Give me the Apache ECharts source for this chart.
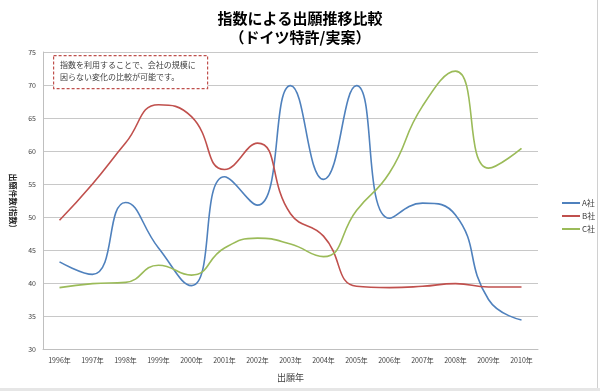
<!DOCTYPE html>
<html><head><meta charset="utf-8">
<script src="https://cdn.jsdelivr.net/npm/echarts@6/dist/echarts.min.js"></script>
<style>html,body{margin:0;padding:0;background:#fff}#c{width:600px;height:391px}</style>
</head><body><div id="c"></div>
<script>
const categories = ['1996年','1997年','1998年','1999年','2000年','2001年','2002年','2003年','2004年','2005年','2006年','2007年','2008年','2009年','2010年'];
const seriesA = [43.2, 41.3, 52.2, 45.3, 39.6, 56.1, 51.8, 69.9, 55.7, 69.9, 49.8, 52.1, 50.3, 37.5, 34.4];
const seriesB = [49.5, 55.0, 61.2, 67.0, 65.2, 57.2, 61.2, 50.5, 47.1, 39.5, 39.3, 39.5, 39.9, 39.4, 39.4];
const seriesC = [39.3, 39.9, 40.1, 42.7, 41.2, 45.3, 46.8, 45.9, 44.0, 51.0, 56.7, 66.8, 72.1, 57.4, 60.4];
const seriesNames = ['A社','B社','C社'];
const colors = ['#4F81BD','#C0504D','#9BBB59'];
const yTicks = {min: 30, max: 75, interval: 5};
const titleLines = ['指数による出願推移比較','（ドイツ特許/実案）'];
const noteLines = ['指数を利用することで、会社の規模に','因らない変化の比較が可能です。'];

const font = '"Noto Sans CJK JP", "Noto Sans", sans-serif';
const chart = echarts.init(document.getElementById('c'), null, {renderer:'canvas'});
const data = [seriesA, seriesB, seriesC];
chart.setOption({
  animation: false,
  textStyle: {fontFamily: font},
  title: {
    text: titleLines.join('\n'), left: 'center', top: 4,
    textStyle: {fontSize: 15, fontWeight: 'bold', color: '#000', lineHeight: 19, fontFamily: font}
  },
  legend: {
    orient: 'vertical', left: 557, top: 194, itemGap: 5,
    itemWidth: 18, itemHeight: 2, icon: 'rect',
    textStyle: {fontSize: 8, color: '#404040', fontFamily: font, padding: [0,0,0,-3]},
    data: seriesNames
  },
  grid: {left: 43, right: 62, top: 52, bottom: 42},
  xAxis: {
    type: 'category', data: categories, boundaryGap: true,
    name: '出願年', nameLocation: 'middle', nameGap: 24,
    nameTextStyle: {fontSize: 9, color: '#404040'},
    axisLine: {lineStyle: {color: '#bfbfbf'}},
    axisTick: {show: false},
    axisLabel: {fontSize: 7, color: '#404040', interval: 0, margin: 8}
  },
  yAxis: {
    type: 'value', min: yTicks.min, max: yTicks.max, interval: yTicks.interval,
    name: '出願件数(指数)', nameLocation: 'middle', nameGap: 22, nameRotate: -90,
    nameTextStyle: {fontSize: 8, color: '#262626', fontWeight: 'bold'},
    axisLine: {show: true, lineStyle: {color: '#bfbfbf'}},
    axisTick: {show: false},
    splitLine: {lineStyle: {color: '#c8c8c8', width: 1}},
    axisLabel: {fontSize: 7, color: '#404040', margin: 7}
  },
  series: data.map((d, i) => ({
    name: seriesNames[i], type: 'line', data: d, smooth: 0.5,
    symbol: 'none', lineStyle: {width: 1.6, color: colors[i]}, itemStyle: {color: colors[i]}
  })),
  graphic: [
    {type: 'rect', left: 53, top: 55, shape: {width: 154, height: 33},
     style: {fill: '#fff', stroke: '#C0504D', lineWidth: 1.2, lineDash: [3, 2]}, z: 10},
    {type: 'text', left: 60, top: 59, z: 11,
     style: {text: noteLines.join('\n'), fontSize: 8, lineHeight: 12, fill: '#404040', fontFamily: font}},
    {type: 'line', shape: {x1: 597.5, y1: 0, x2: 597.5, y2: 388}, style: {stroke: '#d0d0d0', lineWidth: 1}},
    {type: 'rect', shape: {x: 0, y: 388, width: 600, height: 3}, style: {fill: '#e6e6e6'}}
  ]
});
</script></body></html>
